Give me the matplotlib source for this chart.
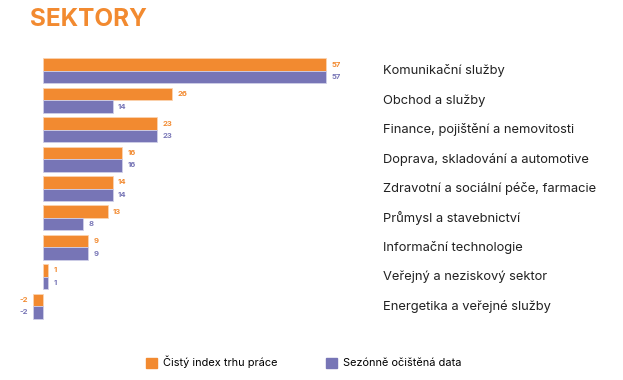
import matplotlib.pyplot as plt
from matplotlib.patches import Patch

plt.rcParams['font.family'] = ['Inter', 'DejaVu Sans']

# Data
sektory = ["Komunikační služby", "Obchod a služby", "Finance, pojištění a nemovitosti",
           "Doprava, skladování a automotive", "Zdravotní a sociální péče, farmacie",
           "Průmysl a stavebnictví", "Informační technologie",
           "Veřejný a neziskový sektor", "Energetika a veřejné služby"]
cisty_index = [57, 26, 23, 16, 14, 13, 9, 1, -2]
sezonne = [57, 14, 23, 16, 14, 8, 9, 1, -2]
nazvy_serii = ["Čistý index trhu práce", "Sezónně očištěná data"]

c_or = "#F28A30"
c_pu = "#7775B6"

fig = plt.figure(figsize=(6.23, 3.80), dpi=100)
ax = fig.add_axes([0, 0.158, 370 / 623, 0.7105])

n = len(sektory)
h = 0.425
pos = list(range(n))
b1 = ax.barh([p - h / 2 for p in pos], cisty_index, height=h, color=c_or,
             edgecolor="#fbd3b0", linewidth=0.6)
b2 = ax.barh([p + h / 2 for p in pos], sezonne, height=h, color=c_pu,
             edgecolor="#cfcfe8", linewidth=0.6)

for bars, vals, col in [(b1, cisty_index, c_or), (b2, sezonne, c_pu)]:
    for bar, v in zip(bars, vals):
        y = bar.get_y() + bar.get_height() / 2
        off = 4 if v >= 0 else -4
        ax.annotate(str(v), (v, y), xytext=(off, 0), textcoords="offset points",
                    ha="left" if v >= 0 else "right", va="center",
                    fontsize=5.5, fontweight="bold", color=col)

ax.set_xlim(-8.66, 65.86)
ax.set_ylim(8.47, -0.714)
ax.axis("off")

for p, s in zip(pos, sektory):
    ax.text(68.5, p, s, ha="left", va="center", fontsize=9.3, color="#222222")

fig.text(30 / 623, 1 - 20 / 380, "SEKTORY", ha="left", va="center",
         fontsize=17.5, fontweight="bold", color=c_or)

handles = [Patch(color=c_or), Patch(color=c_pu)]
fig.legend(handles, nazvy_serii, loc="center", bbox_to_anchor=(0.487, 0.047),
           ncol=2, frameon=False, fontsize=7.9, handlelength=1.05, handleheight=1.05,
           handletextpad=0.5, columnspacing=4.4)

fig.savefig("out.png", dpi=100)
